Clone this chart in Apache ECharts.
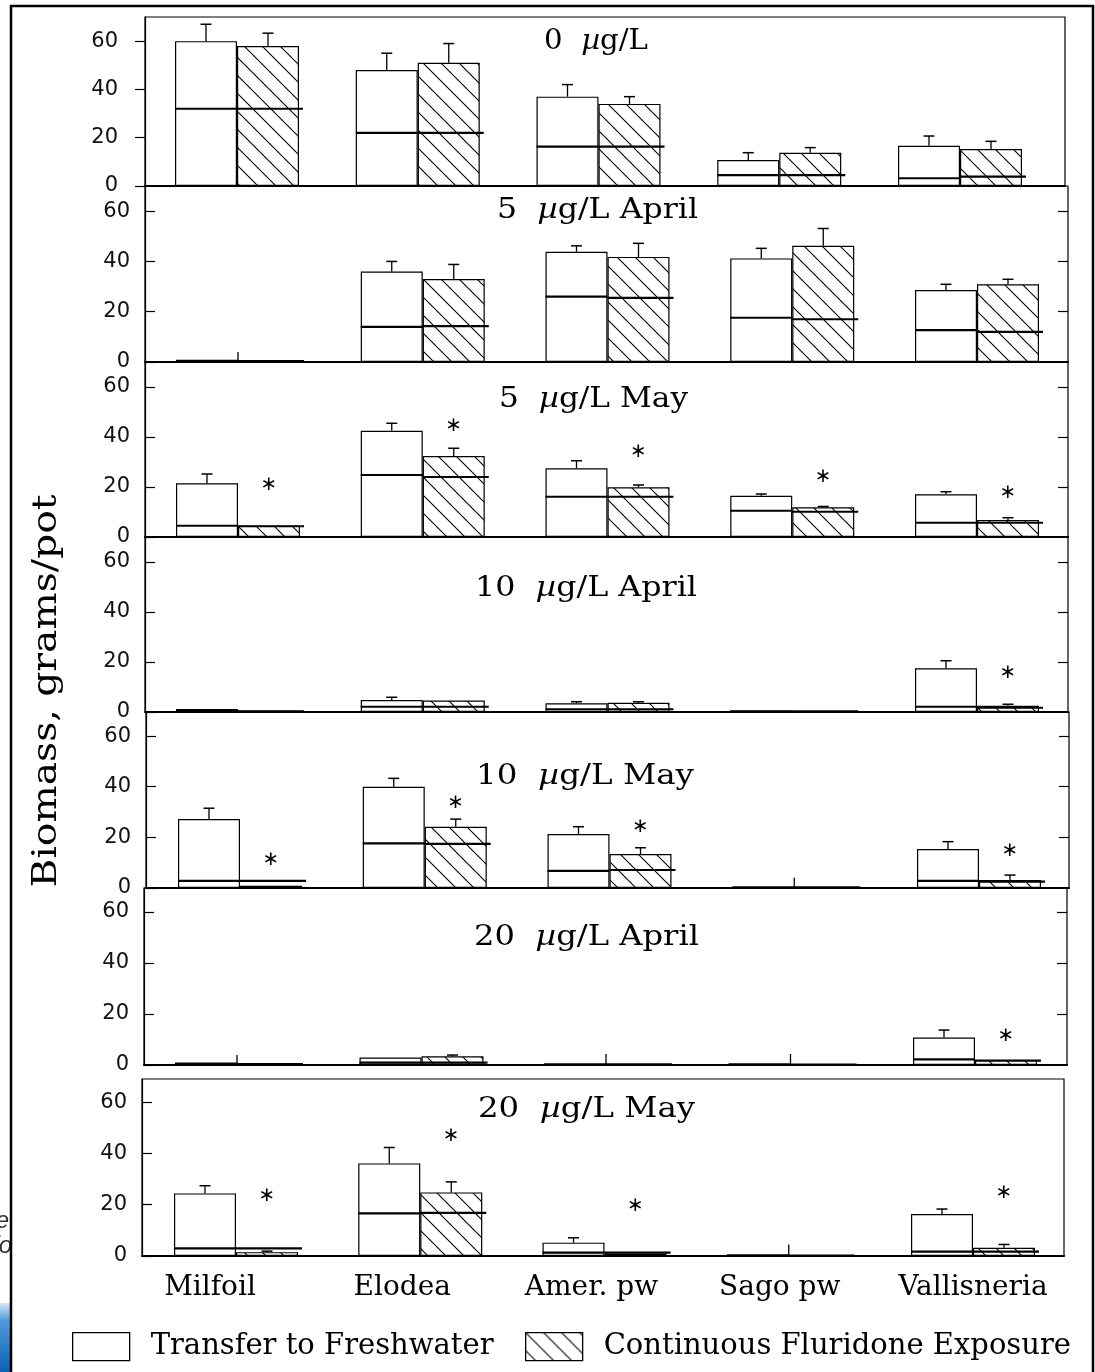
<!DOCTYPE html>
<html>
<head>
<meta charset="utf-8">
<script src="https://cdn.jsdelivr.net/npm/echarts@6/dist/echarts.min.js"></script>
<style>
html,body{margin:0;padding:0;background:#fff;}
#chart{width:1095px;height:1372px;}
</style>
</head>
<body>
<div id="chart"></div>
<script>
// ---------------- DATA ----------------
const categories = ['Milfoil', 'Elodea', 'Amer. pw', 'Sago pw', 'Vallisneria'];
const panelTitles = [['0', ''], ['5', 'April'], ['5', 'May'], ['10', 'April'], ['10', 'May'], ['20', 'April'], ['20', 'May']];
const yTickValues = [0, 20, 40, 60];
const legendNames = ['Transfer to Freshwater', 'Continuous Fluridone Exposure'];
const yTitle = 'Biomass, grams/pot';

// Transfer to Freshwater: total biomass, upper error (SE), below-ground line
const transferMean = [
  [60, 48, 37, 10.8, 16.7],
  [0.6, 36, 43.8, 41.2, 28.6],
  [21.5, 42.5, 27.5, 16.5, 17.1],
  [1.2, 4.8, 3.5, 0.5, 17.5],
  [27.2, 40, 21.3, 0.3, 15.4],
  [0.7, 2.9, 0.4, 0.3, 10.8],
  [24.4, 36.1, 5.2, 0.3, 16.4]
];
const transferErr = [
  [7, 7, 5, 3, 4],
  [0, 4, 2.4, 4, 2.3],
  [3.7, 3, 3, 0.7, 1],
  [0, 1.1, 0.6, 0, 3],
  [4.3, 3.3, 2.9, 0, 2.9],
  [0, 0, 0, 0, 2.9],
  [3, 6.2, 1.9, 0, 1.9]
];
const transferInner = [
  [32, 22, 16.3, 4.5, 3.2],
  [0.5, 14, 26, 17.6, 12.7],
  [4.5, 24.8, 16.1, 10.5, 5.7],
  [0.4, 2.1, 1.1, 0.3, 2.1],
  [2.8, 17.6, 6.8, 0.3, 2.8],
  [0.5, 0.9, 0.3, 0.3, 2.2],
  [3, 16.6, 1.3, 0.3, 1.7]
];

// Continuous Fluridone Exposure
const fluridoneMean = [
  [58, 51, 34, 13.8, 15.3],
  [0.3, 33, 41.8, 46.2, 30.9],
  [4.5, 32.4, 19.9, 11.9, 6.8],
  [0.5, 4.6, 3.7, 0.4, 2.5],
  [0.9, 24.2, 13.4, 0.3, 3.2],
  [0.5, 3.4, 0.3, 0.2, 2],
  [1.5, 24.8, 1, 0.2, 3.2]
];
const fluridoneErr = [
  [5.3, 8, 3, 2.1, 3.2],
  [0, 5.8, 5.4, 6.9, 2],
  [0, 3.1, 0.9, 0.3, 0.9],
  [0, 0, 0.4, 0, 0.6],
  [0, 3, 2.5, 0, 1.9],
  [0, 0.5, 0, 0, 0],
  [0.4, 4.1, 0, 0, 1.3]
];
const fluridoneInner = [
  [32, 22, 16.3, 4.5, 3.9],
  [0.4, 14.3, 25.5, 17, 12],
  [4.3, 24, 16.1, 10.1, 5.7],
  [0.3, 2.1, 1.1, 0.3, 1.7],
  [2.8, 17.4, 7.1, 0.3, 2.5],
  [0.4, 0.9, 0.3, 0.2, 1.7],
  [3, 16.8, 1.3, 0.2, 1.7]
];

// significance asterisks (height of the * mark) above the fluridone bar
const asteriskAt = [
  [null, null, null, null, null],
  [null, null, null, null, null],
  [20.8, 44.5, 34, 23.9, 17.5],
  [null, null, null, null, 15.5],
  [11, 33.7, 24.2, null, 14.6],
  [null, null, null, null, 11.5],
  [23.4, 46.7, 19.5, null, 24.7]
];
// small error ticks drawn at the group centre for near-zero groups
const midTick = [
  [null, null, null, null, null],
  [4, null, null, null, null],
  [null, null, null, null, null],
  [null, null, null, null, null],
  [null, null, null, 4, null],
  [3.9, null, 4.3, 4.3, null],
  [null, null, null, 4.5, null]
];

// ---------------- LAYOUT ----------------
const layout = [
  {top: 17,   bottom: 186,  left: 145, right: 1065, c0: 237, c4: 960, yMax: 70,   inside: false, rightTicks: false},
  {top: 186,  bottom: 362,  left: 145, right: 1068, c0: 238, c4: 977, yMax: 70,   inside: true,  rightTicks: true},
  {top: 362,  bottom: 537,  left: 145, right: 1068, c0: 238, c4: 977, yMax: 70,   inside: true,  rightTicks: true},
  {top: 537,  bottom: 712,  left: 145, right: 1068, c0: 238, c4: 977, yMax: 70,   inside: true,  rightTicks: true},
  {top: 712,  bottom: 888,  left: 146, right: 1069, c0: 240, c4: 979, yMax: 69.5, inside: true,  rightTicks: true},
  {top: 888,  bottom: 1065, left: 144, right: 1067, c0: 237, c4: 975, yMax: 69.4, inside: true,  rightTicks: true},
  {top: 1079, bottom: 1256, left: 142, right: 1064, c0: 236, c4: 973, yMax: 69,   inside: true,  rightTicks: false}
];
const titlePos = [
  {x: 544, y: 42, w: 104},
  {x: 497, y: 211, w: 201},
  {x: 499, y: 400, w: 189},
  {x: 475, y: 589, w: 222},
  {x: 476, y: 777, w: 218},
  {x: 474, y: 938, w: 225},
  {x: 478, y: 1110, w: 217}
];
const labelShift = [52, 36, 26, 18, 0];
const BAR_W = 62;
const SERIF = 'DejaVu Serif';

function makeHatch(s, lw) {
  const c = document.createElement('canvas');
  c.width = s; c.height = s;
  const g = c.getContext('2d');
  g.fillStyle = '#fff'; g.fillRect(0, 0, s, s);
  g.strokeStyle = '#000'; g.lineWidth = lw;
  g.beginPath();
  g.moveTo(-2, -2); g.lineTo(s + 2, s + 2);
  g.moveTo(-2, s - 2); g.lineTo(2, s + 2);
  g.moveTo(s - 2, -2); g.lineTo(s + 2, 2);
  g.stroke();
  return c;
}
const hatch = makeHatch(18, 1.1);
const mctx = document.createElement('canvas').getContext('2d');
function tw(str, font) { mctx.font = font; return mctx.measureText(str).width; }

const grids = [], xAxes = [], yAxes = [], series = [];
const black = {color: '#000', width: 1.2};

layout.forEach((L, p) => {
  const band = (L.c4 - L.c0) / 4;
  const last = p === layout.length - 1;
  grids.push({
    left: L.left, width: L.right - L.left, top: L.top, height: L.bottom - L.top,
    show: true, borderColor: '#000', borderWidth: 1.2, backgroundColor: 'transparent'
  });
  const rich = {};
  labelShift.forEach((s, i) => {
    rich['c' + i] = {fontFamily: SERIF, fontSize: 28, color: '#000', padding: [0, s, 0, 0]};
  });
  xAxes.push({
    type: 'value', gridIndex: p,
    min: -(L.c0 - L.left) / band, max: 4 + (L.right - L.c4) / band,
    axisLine: {show: true, onZero: false, lineStyle: {color: '#000', width: 2}},
    axisTick: {show: false}, splitLine: {show: false},
    axisLabel: last ? {
      show: true, customValues: [0, 1, 2, 3, 4], margin: 18,
      fontFamily: SERIF, fontSize: 28, color: '#000',
      formatter: v => { const i = Math.round(v); return '{c' + i + '|' + categories[i] + '}'; },
      rich: rich
    } : {show: false}
  });
  yAxes.push({
    type: 'value', gridIndex: p, min: 0, max: L.yMax, position: 'left',
    axisLine: {show: true, onZero: false, lineStyle: black},
    axisTick: {show: true, inside: L.inside, length: 10, customValues: yTickValues, lineStyle: black},
    axisLabel: {show: true, customValues: yTickValues, margin: L.inside ? 15 : 27,
      fontFamily: 'DejaVu Sans', fontSize: 21, color: '#111'},
    splitLine: {show: false}
  });
  yAxes.push({
    type: 'value', gridIndex: p, min: 0, max: L.yMax, position: 'right', show: L.rightTicks,
    axisLine: {show: false, onZero: false},
    axisTick: {show: true, inside: true, length: 10, customValues: [20, 40, 60], lineStyle: black},
    axisLabel: {show: false}, splitLine: {show: false}
  });

  series.push({
    type: 'bar', name: legendNames[0], xAxisIndex: p, yAxisIndex: 2 * p,
    barWidth: BAR_W, barGap: '0%', z: 2,
    data: transferMean[p].map((v, i) => [i, v]),
    itemStyle: {color: '#fff', borderColor: '#000', borderWidth: 1.2},
    emphasis: {disabled: true}
  });
  series.push({
    type: 'bar', name: legendNames[1], xAxisIndex: p, yAxisIndex: 2 * p,
    barWidth: BAR_W, barGap: '0%', z: 2,
    data: fluridoneMean[p].map((v, i) => [i, v]),
    itemStyle: {color: {image: hatch, repeat: 'repeat'}, borderColor: '#000', borderWidth: 1.2},
    emphasis: {disabled: true}
  });

  const rows = [];
  categories.forEach((c, i) => {
    rows.push([i, 0, transferMean[p][i], transferErr[p][i], transferInner[p][i]]);
    rows.push([i, 1, fluridoneMean[p][i], fluridoneErr[p][i], fluridoneInner[p][i]]);
  });
  series.push({
    type: 'custom', xAxisIndex: p, yAxisIndex: 2 * p, silent: true, z: 5,
    encode: {x: 0, y: 2}, data: rows,
    renderItem: (params, api) => {
      const i = api.value(0), t = api.value(1), m = api.value(2), e = api.value(3), inn = api.value(4);
      const base = api.coord([i, 0]);
      const left = base[0] + (t ? 0 : -BAR_W);
      const right = left + BAR_W + (t ? 4 : 0);
      const cx = left + BAR_W / 2;
      const ch = [];
      const yi = api.coord([i, inn])[1];
      ch.push({type: 'line', shape: {x1: left, y1: yi, x2: right, y2: yi}, style: {stroke: '#000', lineWidth: 2.2}});
      if (e > 0) {
        const y0 = api.coord([i, m])[1], y1 = api.coord([i, m + e])[1];
        ch.push({type: 'line', shape: {x1: cx, y1: y0, x2: cx, y2: y1}, style: {stroke: '#000', lineWidth: 1.3}});
        ch.push({type: 'line', shape: {x1: cx - 5.5, y1: y1, x2: cx + 5.5, y2: y1}, style: {stroke: '#000', lineWidth: 1.5}});
      }
      return {type: 'group', children: ch};
    }
  });

  const ticks = [];
  midTick[p].forEach((h, i) => { if (h != null) ticks.push([i, h]); });
  if (ticks.length) series.push({
    type: 'custom', xAxisIndex: p, yAxisIndex: 2 * p, silent: true, z: 5,
    encode: {x: 0, y: 1}, data: ticks,
    renderItem: (params, api) => {
      const b = api.coord([api.value(0), 0]), t = api.coord([api.value(0), api.value(1)]);
      return {type: 'line', shape: {x1: b[0], y1: b[1], x2: b[0], y2: t[1]}, style: {stroke: '#000', lineWidth: 1.3}};
    }
  });

  const stars = [];
  asteriskAt[p].forEach((h, i) => { if (h != null) stars.push([i, h]); });
  if (stars.length) series.push({
    type: 'custom', xAxisIndex: p, yAxisIndex: 2 * p, silent: true, z: 5,
    encode: {x: 0, y: 1}, data: stars,
    renderItem: (params, api) => {
      const c = api.coord([api.value(0), api.value(1)]);
      return {type: 'text', x: c[0] + BAR_W / 2, y: c[1],
        style: {text: '∗', fill: '#000', font: '20px "DejaVu Sans"', align: 'center', verticalAlign: 'middle',
          textAlign: 'center', textVerticalAlign: 'middle'}};
    }
  });
});

// ---------------- GRAPHICS (titles, axis title, frame) ----------------
const graphics = [];
const TF = 27;
panelTitles.forEach((pt, p) => {
  const num = pt[0], month = pt[1];
  const rest = 'g/L' + (month ? ' ' + month : '');
  const nat = tw(num + '  ', TF + 'px "' + SERIF + '"') + tw('µ', 'italic ' + TF + 'px "' + SERIF + '"') + tw(rest, TF + 'px "' + SERIF + '"');
  const tp = titlePos[p];
  graphics.push({
    type: 'text', x: tp.x, y: tp.y, scaleX: tp.w / nat, z: 10,
    style: {
      text: '{a|' + num + '  }{b|µ}{a|' + rest + '}',
      rich: {
        a: {fontFamily: SERIF, fontSize: TF, fill: '#000'},
        b: {fontFamily: SERIF, fontSize: TF, fontStyle: 'italic', fill: '#000'}
      },
      fill: '#000', align: 'left', verticalAlign: 'middle'
    }
  });
});
const YF = 34;
graphics.push({
  type: 'text', x: 47, y: 691, rotation: Math.PI / 2, scaleX: 393 / tw(yTitle, YF + 'px "' + SERIF + '"'), z: 10,
  style: {text: yTitle, fontFamily: SERIF, fontSize: YF, fill: '#000', align: 'center', verticalAlign: 'middle'}
});
// stray fragments of the neighbouring page column and the scan frame
graphics.push({type: 'text', x: 9, y: 1221, z: 1, style: {text: 'e', font: 'italic 24px "Liberation Sans"', fill: '#333', align: 'right', verticalAlign: 'middle'}});
graphics.push({type: 'text', x: 12, y: 1246, z: 1, style: {text: 'fo', font: 'italic 24px "Liberation Sans"', fill: '#333', align: 'right', verticalAlign: 'middle'}});
graphics.push({type: 'rect', z: 1, shape: {x: 0, y: 1303, width: 10, height: 70},
  style: {fill: {type: 'linear', x: 0, y: 0, x2: 0, y2: 1, colorStops: [
    {offset: 0, color: '#d6e7f6'}, {offset: 0.25, color: '#4f9ad9'}, {offset: 1, color: '#0b5fb5'}]}}});
graphics.push({type: 'rect', z: 20, shape: {x: 11, y: 6, width: 1082, height: 1420},
  style: {fill: 'none', stroke: '#000', lineWidth: 2.5}});

const legendCommon = {
  orient: 'horizontal', top: 1332, padding: 0, itemWidth: 57, itemHeight: 28, icon: 'rect',
  selectedMode: false,
  itemStyle: {borderColor: '#000', borderWidth: 1.3},
  textStyle: {fontFamily: SERIF, fontSize: 29, color: '#000', padding: [0, 0, 0, 16]}
};

const chart = echarts.init(document.getElementById('chart'), null, {renderer: 'canvas'});
chart.setOption({
  animation: false,
  backgroundColor: '#fff',
  grid: grids,
  xAxis: xAxes,
  yAxis: yAxes,
  legend: [
    Object.assign({}, legendCommon, {data: [legendNames[0]], left: 72}),
    Object.assign({}, legendCommon, {data: [legendNames[1]], left: 525})
  ],
  graphic: graphics,
  series: series
});
</script>
</body>
</html>
